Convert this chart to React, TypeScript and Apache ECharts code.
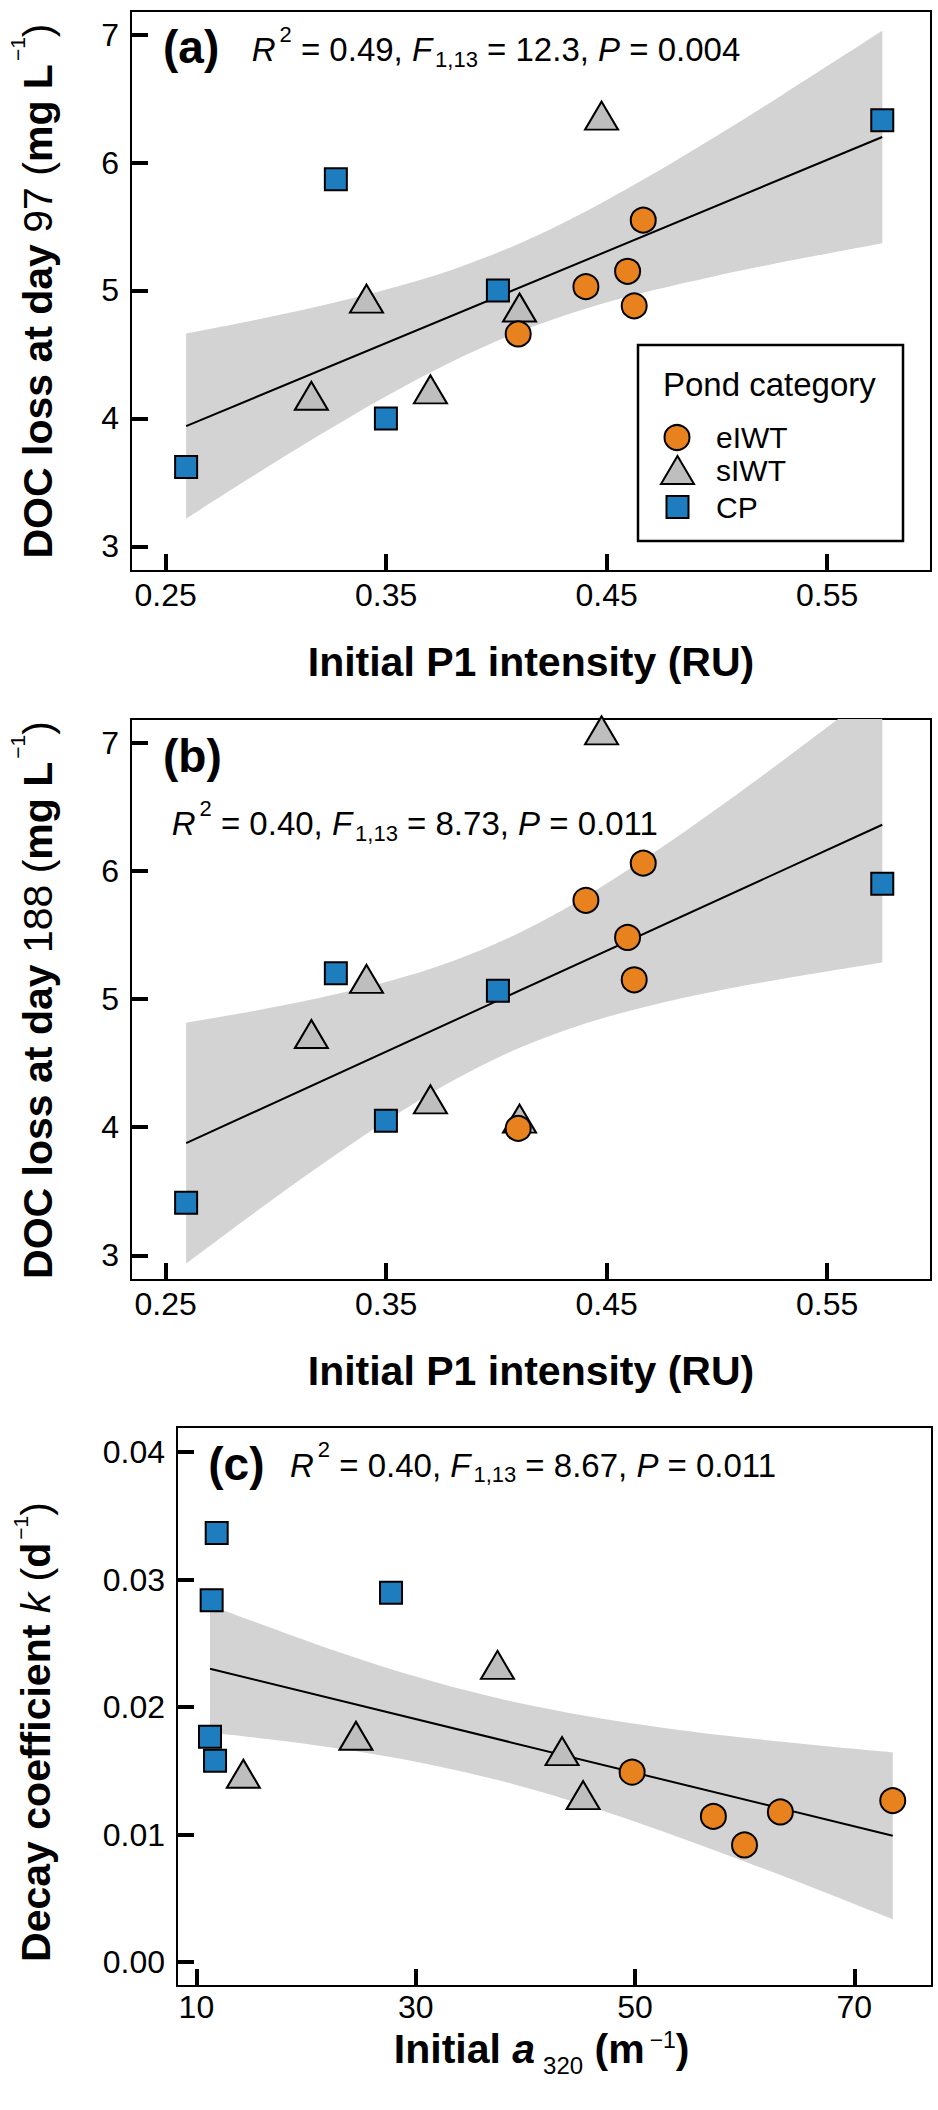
import React, { useEffect, useRef } from 'react';
import * as echarts from 'echarts';

const FONT = '"Liberation Sans", Arial, Helvetica, sans-serif';

// ---- Panels (a) and (b): initial P1 intensity (RU) ----
const cpP1 = [0.2593, 0.3272, 0.3499, 0.4007, 0.575];
const sIwtP1 = [0.3161, 0.3411, 0.3701, 0.4105, 0.4477];
const eIwtP1 = [0.4099, 0.4406, 0.4595, 0.4625, 0.4666];

// (a) DOC loss at day 97 (mg L-1)
const cpDoc97 = [3.62, 5.87, 4.0, 5.0, 6.33];
const sIwtDoc97 = [4.14, 4.9, 4.19, 4.83, 6.33];
const eIwtDoc97 = [4.66, 5.03, 5.15, 4.88, 5.55];

// (b) DOC loss at day 188 (mg L-1)
const cpDoc188 = [3.41, 5.2, 4.05, 5.065, 5.9];
const sIwtDoc188 = [4.69, 5.12, 4.18, 4.03, 7.06];
const eIwtDoc188 = [3.99, 5.77, 5.48, 5.15, 6.06];

// fitted lines and 95% confidence bands (a, b)
const p1FitX = [0.2593, 0.575];
const doc97FitY = [3.94, 6.2];
const doc188FitY = [3.875, 6.36];
const p1BandX = [0.2593, 0.29, 0.32, 0.35, 0.38, 0.41, 0.44, 0.47, 0.5, 0.53, 0.575];
const doc97Lower = [3.217, 3.553, 3.872, 4.173, 4.445, 4.674, 4.855, 4.997, 5.116, 5.223, 5.37];
const doc97Upper = [4.663, 4.767, 4.879, 5.007, 5.163, 5.364, 5.614, 5.901, 6.21, 6.533, 7.03];
const doc188Lower = [2.935, 3.328, 3.699, 4.048, 4.36, 4.615, 4.807, 4.95, 5.062, 5.158, 5.285];
const doc188Upper = [4.815, 4.906, 5.009, 5.132, 5.294, 5.513, 5.794, 6.125, 6.484, 6.862, 7.445];

// ---- Panel (c): initial a320 (m-1) vs decay coefficient k (d-1) ----
const cpA320 = [11.85, 11.39, 27.75, 11.24, 11.7];
const sIwtA320 = [14.28, 24.55, 37.46, 43.35, 45.27];
const eIwtA320 = [49.74, 57.15, 59.99, 63.26, 73.51];
const cpK = [0.03364, 0.02837, 0.02897, 0.01766, 0.01578];
const sIwtK = [0.0144, 0.01738, 0.02293, 0.01617, 0.01272];
const eIwtK = [0.01489, 0.01142, 0.00918, 0.01177, 0.01266];
const a320FitX = [11.24, 73.51];
const kFitY = [0.023, 0.0099];
const a320BandX = [11.24, 18, 25, 32, 39, 46, 53, 60, 67, 73.51];
const kLower = [0.01801, 0.01733, 0.01647, 0.01536, 0.01393, 0.01215, 0.0101, 0.00789, 0.00557, 0.00335];
const kUpper = [0.02799, 0.02583, 0.02373, 0.0219, 0.02039, 0.01923, 0.01832, 0.01759, 0.01697, 0.01645];

// ---- tick labels ----
const p1Ticks = [0.25, 0.35, 0.45, 0.55];
const docTicks = [3, 4, 5, 6, 7];
const a320Ticks = [10, 30, 50, 70];
const kTicks = [0, 0.01, 0.02, 0.03, 0.04];

const categories = ['eIWT', 'sIWT', 'CP'];
const ORANGE = '#E8821E';
const GRAY = '#BEBEBE';
const BLUE = '#1E7DBF';
const BAND = '#D3D3D3';

const pairs = (xs: number[], ys: number[]) => xs.map((x, i) => [x, ys[i]]);

function scatter(name: string, xs: number[], ys: number[], idx: number) {
  const base: any = {
    type: 'scatter',
    name,
    xAxisIndex: idx,
    yAxisIndex: idx,
    data: pairs(xs, ys),
    z: 5,
    emphasis: { disabled: true },
    itemStyle: { borderColor: '#000', borderWidth: 2, opacity: 1 },
  };
  if (name === 'eIWT') {
    base.symbol = 'circle';
    base.symbolSize = 25;
    base.itemStyle.color = ORANGE;
    base.z = 6;
  } else if (name === 'sIWT') {
    base.symbol = 'triangle';
    base.symbolSize = [33, 28];
    base.symbolOffset = [0, -4.7];
    base.itemStyle.color = GRAY;
    base.z = 5;
  } else {
    base.symbol = 'rect';
    base.symbolSize = 22;
    base.itemStyle.color = BLUE;
    base.z = 4;
  }
  return base;
}

// smooth curve through pixel points (Catmull-Rom as cubic Bezier)
function curve(pts: number[][], cmd: string) {
  let d = cmd + pts[0][0].toFixed(2) + ',' + pts[0][1].toFixed(2);
  for (let i = 0; i < pts.length - 1; i++) {
    const p0 = pts[i - 1] || pts[i];
    const p1 = pts[i];
    const p2 = pts[i + 1];
    const p3 = pts[i + 2] || pts[i + 1];
    const c1x = p1[0] + (p2[0] - p0[0]) / 6;
    const c1y = p1[1] + (p2[1] - p0[1]) / 6;
    const c2x = p2[0] - (p3[0] - p1[0]) / 6;
    const c2y = p2[1] - (p3[1] - p1[1]) / 6;
    d += `C${c1x.toFixed(2)},${c1y.toFixed(2)} ${c2x.toFixed(2)},${c2y.toFixed(2)} ${p2[0].toFixed(2)},${p2[1].toFixed(2)}`;
  }
  return d;
}

function band(xs: number[], lo: number[], hi: number[], idx: number) {
  return {
    type: 'custom',
    xAxisIndex: idx,
    yAxisIndex: idx,
    data: [[xs[0], lo[0], hi[0]]],
    encode: { x: 0, y: [1, 2] },
    clip: true,
    silent: true,
    z: 1,
    renderItem: (params: any, api: any) => {
      const up = xs.map((x, i) => api.coord([x, hi[i]]));
      const dn = xs.map((x, i) => api.coord([x, lo[i]])).reverse();
      const d = curve(up, 'M') + curve(dn, 'L') + 'Z';
      const cs = params.coordSys;
      return {
        type: 'path',
        shape: { pathData: d },
        style: { fill: BAND, stroke: null },
        clipPath: { type: 'rect', shape: { x: cs.x, y: cs.y, width: cs.width, height: cs.height } },
      };
    },
  };
}

function fit(xs: number[], ys: number[], idx: number) {
  return {
    type: 'line',
    xAxisIndex: idx,
    yAxisIndex: idx,
    data: pairs(xs, ys),
    symbol: 'none',
    silent: true,
    lineStyle: { color: '#000', width: 2 },
    z: 2,
  };
}

const tickLabel = {
  fontFamily: FONT,
  fontSize: 32,
  color: '#000',
};

function valueAxis(idx: number, min: number, max: number, ticks: number[], margin: number, fmt?: (v: number) => string) {
  return {
    type: 'value',
    gridIndex: idx,
    min,
    max,
    axisLine: { show: false, onZero: false },
    splitLine: { show: false },
    axisTick: {
      show: true,
      inside: true,
      length: 17,
      lineStyle: { color: '#000', width: 4 },
      customValues: ticks,
    },
    axisLabel: {
      show: true,
      customValues: ticks,
      margin,
      ...tickLabel,
      formatter: fmt || ((v: number) => String(v)),
    },
  };
}

const titleBase = { fontFamily: FONT, fontSize: 41, fill: '#000' };
const titleRich = {
  b: { ...titleBase, fontWeight: 'bold' },
  n: { ...titleBase, fontWeight: 'normal' },
  i: { ...titleBase, fontWeight: 'normal', fontStyle: 'italic' },
  bi: { ...titleBase, fontWeight: 'bold', fontStyle: 'italic' },
  supA: { fontFamily: FONT, fontSize: 21, fill: '#000', padding: [0, 0, 40, 3] },
  supC: { fontFamily: FONT, fontSize: 21, fill: '#000', padding: [0, 0, 30, 3] },
  supM: { fontFamily: FONT, fontSize: 23, fill: '#000', padding: [0, 0, 18, 5] },
  sub: { fontFamily: FONT, fontSize: 24, fill: '#000', padding: [32, 0, 0, 8] },
};

const NB = '\u00A0';

function titleText(text: string, x: number, y: number, rotate: boolean) {
  return {
    type: 'text',
    x,
    y,
    rotation: rotate ? Math.PI / 2 : 0,
    z: 10,
    style: {
      text,
      rich: titleRich,
      align: 'center',
      verticalAlign: 'middle',
      fill: '#000',
      fontFamily: FONT,
      fontSize: 41,
    },
  };
}

const xAxes = [
  {
    ...valueAxis(0, 0.2343, 0.5971, p1Ticks, 8),
    name: 'Initial P1 intensity (RU)',
    nameLocation: 'middle',
    nameGap: 70,
    nameTextStyle: { fontFamily: FONT, fontSize: 41, color: '#000', fontWeight: 'bold' },
  },
  {
    ...valueAxis(1, 0.2343, 0.5971, p1Ticks, 8),
    name: 'Initial P1 intensity (RU)',
    nameLocation: 'middle',
    nameGap: 70,
    nameTextStyle: { fontFamily: FONT, fontSize: 41, color: '#000', fontWeight: 'bold' },
  },
  valueAxis(2, 8.23, 77.09, a320Ticks, 5),
];

const yAxes = [
  valueAxis(0, 2.807, 7.185, docTicks, 12),
  valueAxis(1, 2.807, 7.185, docTicks, 12),
  valueAxis(2, -0.00188, 0.04196, kTicks, 12, (v: number) => v.toFixed(2)),
];

const statRich = {
  i: { fontFamily: FONT, fontSize: 33, fontStyle: 'italic', fill: '#000' },
  n: { fontFamily: FONT, fontSize: 33, fill: '#000' },
  sup: { fontFamily: FONT, fontSize: 22, fill: '#000', padding: [0, 0, 31, 4] },
  sub: { fontFamily: FONT, fontSize: 22, fill: '#000', padding: [19, 0, 0, 3] },
};

function statText(x: number, baseline: number, r2: string, f: string, p: string) {
  return {
    type: 'text',
    x,
    y: baseline - 11.4,
    z: 10,
    style: {
      text: `{i|R}{sup|2}{n|${NB}=${NB}${r2},${NB}}{i|F}{sub|1,13}{n|${NB}=${NB}${f},${NB}}{i|P}{n|${NB}=${NB}${p}}`,
      rich: statRich,
      align: 'left',
      verticalAlign: 'middle',
      fill: '#000',
      fontFamily: FONT,
      fontSize: 33,
    },
  };
}

function panelLabel(x: number, baseline: number, t: string) {
  return {
    type: 'text',
    x,
    y: baseline - 15.9,
    z: 10,
    style: {
      text: t,
      fontFamily: FONT,
      fontSize: 46,
      fontWeight: 'bold',
      fill: '#000',
      align: 'left',
      verticalAlign: 'middle',
    },
  };
}

function legendItem(name: string, icon: string, left: number, top: number, w: number, h: number, pad: number) {
  return {
    data: [{ name, icon }],
    orient: 'vertical',
    left,
    top,
    padding: 0,
    itemWidth: w,
    itemHeight: h,
    selectedMode: false,
    itemStyle: { borderColor: '#000', borderWidth: 2 },
    formatter: (n: string) => `{t|${n}}`,
    textStyle: {
      fontFamily: FONT,
      fontSize: 30,
      color: '#000',
      rich: { t: { fontFamily: FONT, fontSize: 30, color: '#000', padding: [0, 0, 0, pad] } },
    },
  };
}

const yTitleA = `{b|DOC loss at day}{n|${NB}97${NB}(}{b|mg L}{supA|\u22121}{n|)}`;
const yTitleB = `{b|DOC loss at day}{n|${NB}188${NB}(}{b|mg L}{supA|\u22121}{n|)}`;
const yTitleC = `{b|Decay coefficient${NB}}{i|k}{n|${NB}(}{b|d}{supC|\u22121}{n|)}`;
const xTitleC = `{b|Initial${NB}}{bi|a}{sub|320}{b|${NB}(m}{supM|\u22121}{b|)}`;

const option: any = {
  animation: false,
  backgroundColor: '#fff',
  grid: [
    { left: 131, top: 11, width: 800, height: 560, show: true, borderColor: '#000', borderWidth: 2, backgroundColor: 'transparent' },
    { left: 131, top: 719, width: 800, height: 561, show: true, borderColor: '#000', borderWidth: 2, backgroundColor: 'transparent' },
    { left: 177, top: 1427, width: 755, height: 559, show: true, borderColor: '#000', borderWidth: 2, backgroundColor: 'transparent' },
  ],
  xAxis: xAxes,
  yAxis: yAxes,
  legend: [
    legendItem(categories[0], 'circle', 663.5, 422.5, 25, 25, 21.5),
    legendItem(categories[1], 'triangle', 660, 455, 33, 28, 17),
    legendItem(categories[2], 'rect', 665.5, 492, 22, 22, 22.5),
  ],
  graphic: [
    {
      type: 'rect',
      z: 9,
      shape: { x: 638, y: 345, width: 265, height: 196 },
      style: { fill: 'none', stroke: '#000', lineWidth: 2.5 },
    },
    {
      type: 'text',
      x: 663,
      y: 396 - 11.5,
      z: 10,
      style: { text: 'Pond category', fontFamily: FONT, fontSize: 33, fill: '#000', align: 'left', verticalAlign: 'middle' },
    },
    panelLabel(163, 63, '(a)'),
    statText(251.7, 61, '0.49', '12.3', '0.004'),
    panelLabel(163, 772, '(b)'),
    statText(171.7, 835, '0.40', '8.73', '0.011'),
    panelLabel(208.3, 1480, '(c)'),
    statText(290, 1476.7, '0.40', '8.67', '0.011'),
    titleText(yTitleA, 37.8, 291, true),
    titleText(yTitleB, 37.8, 1000, true),
    titleText(yTitleC, 35.8, 1732, true),
    titleText(xTitleC, 541.7, 2049, false),
  ],
  series: [
    band(p1BandX, doc97Lower, doc97Upper, 0),
    fit(p1FitX, doc97FitY, 0),
    scatter('CP', cpP1, cpDoc97, 0),
    scatter('sIWT', sIwtP1, sIwtDoc97, 0),
    scatter('eIWT', eIwtP1, eIwtDoc97, 0),

    band(p1BandX, doc188Lower, doc188Upper, 1),
    fit(p1FitX, doc188FitY, 1),
    scatter('CP', cpP1, cpDoc188, 1),
    scatter('sIWT', sIwtP1, sIwtDoc188, 1),
    scatter('eIWT', eIwtP1, eIwtDoc188, 1),

    band(a320BandX, kLower, kUpper, 2),
    fit(a320FitX, kFitY, 2),
    scatter('CP', cpA320, cpK, 2),
    scatter('sIWT', sIwtA320, sIwtK, 2),
    scatter('eIWT', eIwtA320, eIwtK, 2),
  ],
};

export default function App() {
  const ref = useRef<HTMLDivElement>(null);
  useEffect(() => {
    if (!ref.current) return;
    const chart = echarts.init(ref.current, null, { renderer: 'svg' });
    chart.setOption(option);
    return () => {
      chart.dispose();
    };
  }, []);
  return (
    <div
      ref={ref}
      style={{ position: 'absolute', left: 0, top: 0, width: 938, height: 2110, background: '#fff' }}
    />
  );
}
